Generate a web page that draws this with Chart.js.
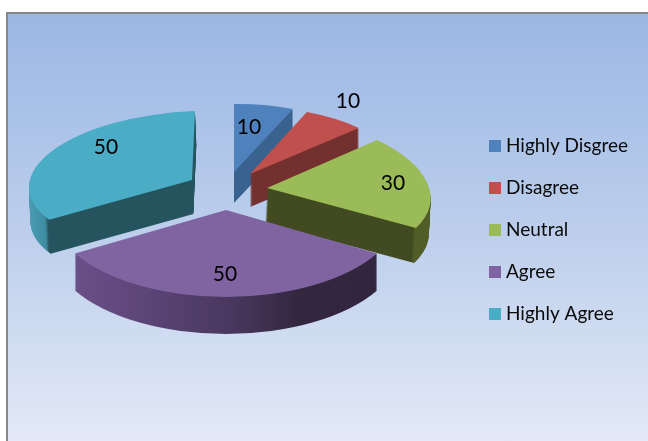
<!DOCTYPE html>
<html>
<head>
<meta charset="utf-8">
<style>
  html, body { margin: 0; padding: 0; background: #fff; overflow: hidden; }
  #frame {
    position: absolute; left: 6px; top: 12px; width: 642px; height: 429px;
    box-sizing: border-box; border-left: 2px solid #868686; border-top: 2px solid #868686;
    background: linear-gradient(#9bb7e4 0%, #bdcfec 52%, #e3e9f6 100%);
  }
  #wrap { position: absolute; left: 0; top: 0; width: 648px; height: 441px; }
</style>
<script src="https://cdn.jsdelivr.net/npm/chart.js@4"></script>
</head>
<body>
<div id="frame"></div>
<div id="wrap"><canvas id="pie" width="648" height="441"></canvas></div>
<script>
// Chart data
const categories = ['Highly Disgree', 'Disagree', 'Neutral', 'Agree', 'Highly Agree'];
const values = [10, 10, 30, 50, 50];
const topColors = ['#4f81bd', '#c0504d', '#9bbb59', '#8064a2', '#4bacc6'];

// 3D look: where each slice's tip lands, and how its unit circle is projected [a, b, c, d]
const sliceTips = [[234, 172], [250, 174], [267, 188], [226, 210], [192, 180]];
const sliceProjection = [
  [145, -2, 0, 68],
  [151, -1.4, 4.9, 67.3],
  [162.7, 2.9, 16.2, 75],
  [174.4, 0, 0, 87],
  [163, -6, -3, 69]
];
const sliceDepth = [31, 33, 35, 37, 34];
// walls lean a little towards the middle as they go down
const wallLean = [0, 0, -0.05, 0, 0.04];
// wall colours along the screen x axis: [x, colour]
const wallStops = [
  [[200, '#3a628f'], [300, '#3a628f']],
  [[240, '#72302e'], [370, '#72302e']],
  [[260, '#414a20'], [413, '#414a20'], [415, '#505d27'], [432, '#505d27']],
  [[75, '#6a4f88'], [150, '#5b4476'], [227, '#4a3860'], [300, '#33273f'], [378, '#31263e']],
  [[28, '#4a9db3'], [45, '#3e8ca1'], [48, '#25545f'], [200, '#25545f']]
];
const drawOrder = [0, 1, 2, 4, 3];
const labelSpots = [[249, 127], [348, 101], [393, 183], [225, 274], [106, 147]];

// legend swatches as small canvases, so the gap to the text can stay tight
const swatches = topColors.map(function(color) {
  const c = document.createElement('canvas');
  c.width = 12;
  c.height = 12;
  const cx = c.getContext('2d');
  cx.fillStyle = color;
  cx.fillRect(0, 0, 12, 12);
  return c;
});

function wallGradient(ctx, arc, i, A, C) {
  // gradient is set in slice space, so walk along the normal of the screen x lines
  const n = A * A + C * C;
  const tipX = sliceTips[i][0];
  const stops = wallStops[i];
  const first = stops[0][0], last = stops[stops.length - 1][0];
  const s0 = (first - tipX) / n, s1 = (last - tipX) / n;
  const g = ctx.createLinearGradient(arc.x + s0 * A, arc.y + s0 * C, arc.x + s1 * A, arc.y + s1 * C);
  stops.forEach(function(st) { g.addColorStop((st[0] - first) / (last - first), st[1]); });
  return g;
}

function drawSlice(ctx, arc, i, shiftY) {
  const p = sliceProjection[i];
  const r = arc.outerRadius;
  ctx.save();
  ctx.translate(sliceTips[i][0] + shiftY * wallLean[i], sliceTips[i][1] + shiftY);
  ctx.transform(p[0] / r, p[1] / r, p[2] / r, p[3] / r, 0, 0);
  ctx.translate(-arc.x, -arc.y);
  arc.draw(ctx);
  ctx.restore();
}

const pie3d = {
  id: 'pie3d',
  beforeDatasetsDraw(chart) {
    const ctx = chart.ctx;
    const arcs = chart.getDatasetMeta(0).data;
    drawOrder.forEach(function(i) {
      const arc = arcs[i];
      const top = arc.options;
      const p = sliceProjection[i];
      const wall = Object.create(top);
      wall.backgroundColor = wallGradient(ctx, arc, i, p[0] / arc.outerRadius, p[2] / arc.outerRadius);
      arc.options = wall;
      for (let d = sliceDepth[i]; d > 0; d--) drawSlice(ctx, arc, i, d);
      arc.options = top;
      drawSlice(ctx, arc, i, 0);
    });
    return false;
  },
  afterDraw(chart) {
    const ctx = chart.ctx;
    ctx.save();
    ctx.font = '21px Lato';
    ctx.fillStyle = '#000';
    ctx.textAlign = 'center';
    ctx.textBaseline = 'middle';
    values.forEach(function(v, i) {
      ctx.fillText(String(v), labelSpots[i][0], labelSpots[i][1]);
    });
    ctx.restore();
  }
};

new Chart(document.getElementById('pie').getContext('2d'), {
  type: 'pie',
  data: {
    labels: categories,
    datasets: [{
      data: values,
      backgroundColor: topColors,
      borderWidth: 0,
      radius: 100
    }]
  },
  options: {
    responsive: false,
    animation: false,
    events: [],
    layout: { padding: { top: 18, right: 10 } },
    plugins: {
      tooltip: { enabled: false },
      title: { display: false },
      legend: {
        position: 'right',
        labels: {
          usePointStyle: true,
          pointStyleWidth: 3,
          boxHeight: 12,
          padding: 23,
          color: '#0a0a0a',
          font: { family: 'Lato', size: 19 },
          generateLabels(chart) {
            return Chart.overrides.pie.plugins.legend.labels.generateLabels(chart).map(function(item, i) {
              return Object.assign(item, { pointStyle: swatches[i] });
            });
          }
        }
      }
    }
  },
  plugins: [pie3d]
});
</script>
</body>
</html>
